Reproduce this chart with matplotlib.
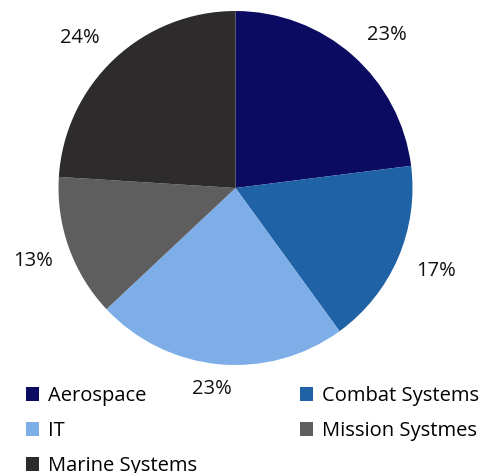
import matplotlib
matplotlib.use("Agg")
import matplotlib.pyplot as plt
import numpy as np
from matplotlib.patches import Patch

plt.rcParams['font.family'] = ['Open Sans', 'DejaVu Sans']

segments = ['Aerospace', 'Combat Systems', 'IT', 'Mission Systmes', 'Marine Systems']
shares = [23, 17, 23, 13, 24]
colors = ['#0b0b62', '#1f62a6', '#7eaee8', '#5e5e5e', '#2d2b2c']

# label placement tweaks (angle shift in degrees, distance in radii)
lbl_dtheta = [-3.3, 1.0, -1.4, 0.0, 2.8]
lbl_dist = [1.215, 1.226, 1.141, 1.215, 1.22]

fig = plt.figure(figsize=(4.85, 4.73), dpi=100)
W, H = 485, 473
cx, cy, r = 235.5, 188, 177
ax = fig.add_axes([(cx - r) / W, (H - cy - r) / H, 2 * r / W, 2 * r / H])

wedges, texts, autotexts = ax.pie(
    shares, colors=colors, startangle=90, counterclock=False,
    autopct=lambda p: f'{p:.0f}%', pctdistance=1.22,
    wedgeprops=dict(linewidth=0),
    textprops=dict(fontsize=14.5, color='#111111'))
for w, t, dth, d in zip(wedges, autotexts, lbl_dtheta, lbl_dist):
    mid = np.deg2rad((w.theta1 + w.theta2) / 2 + dth)
    t.set_position((d * np.cos(mid), d * np.sin(mid)))
ax.set_xlim(-1, 1)
ax.set_ylim(-1, 1)
ax.set_aspect('equal')

# legend is filled column by column, so reorder for row-wise reading
handles = [Patch(facecolor=c, edgecolor='none') for c in colors]
order = [0, 2, 4, 1, 3]
fig.legend([handles[i] for i in order], [segments[i] for i in order],
           ncol=2, loc='upper left', bbox_to_anchor=(26 / W, 1 - 386 / H),
           frameon=False, fontsize=14.5, handlelength=0.65, handleheight=0.65,
           handletextpad=0.45, columnspacing=5.1, labelspacing=0.75,
           borderaxespad=0, borderpad=0)

fig.savefig('out.png', dpi=100)
